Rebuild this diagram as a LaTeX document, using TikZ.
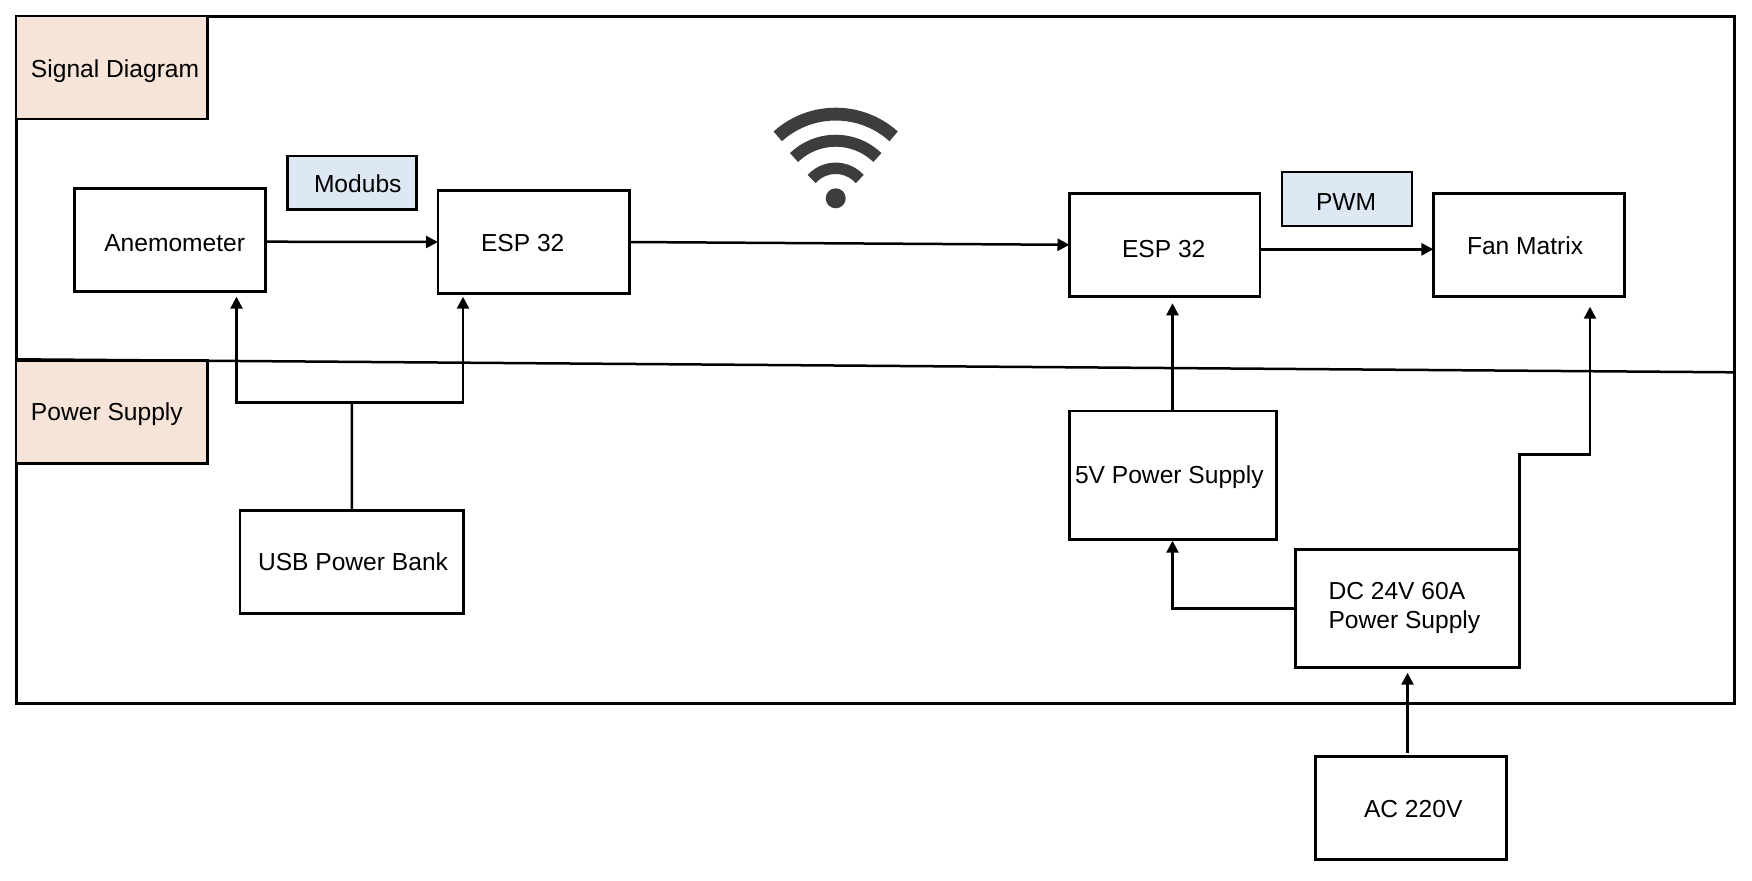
\documentclass[tikz,border=0pt]{standalone}
\usepackage{fontspec}
\setmainfont{Liberation Sans}
\usetikzlibrary{arrows.meta,calc}
\definecolor{peach}{HTML}{F6E4D9}
\definecolor{paleblue}{HTML}{DEE8F4}
\definecolor{wifigrey}{HTML}{3D3D3D}
\tikzset{
  blk/.style={draw=black,line width=1.45pt,inner sep=0pt,outer sep=0pt,rectangle},
  framebox/.style={blk,line width=1.5pt},
  tagbox/.style={blk,fill=peach},
  protobox/.style={blk,fill=paleblue},
  txt/.style={anchor=base west,inner sep=0pt,outer sep=0pt,font=\fontsize{12.3pt}{14pt}\selectfont,text=black},
  conn/.style={draw=black,line width=1.25pt},
  arr/.style={conn,-{Triangle[length=6pt,width=6pt]}},
  wifi/.style={draw=wifigrey,line cap=butt},
}
\newcommand{\blk}[6][blk]{\node[#1,minimum width={(#5-#3)*0.5pt},minimum height={(#6-#4)*0.5pt}] (#2) at ({(#3+#5)/2},{(#4+#6)/2}) {};}
\begin{document}
\begin{tikzpicture}[x=0.5pt,y=-0.5pt]
\useasboundingbox (0,0) rectangle (1752,880);
\fill[white] (0,0) rectangle (1752,880);
% outer frame and divider
\blk[framebox]{frame}{16}{16}{1734}{703}
\coordinate (divL) at (16,359.3);
\coordinate (divR) at (1734,372.3);
\draw[conn] (divL) -- (divR);
% section tags
\blk[tagbox]{sigtag}{16}{16}{207.5}{119}
\blk[tagbox]{powtag}{16}{360.5}{207.5}{463.3}
\node[txt] (sigtxt) at (31,77.3) {Signal Diagram};
\node[txt] (powtxt) at (31,420.5) {Power Supply};
% protocol tags
\blk[protobox]{modbox}{287.3}{156}{416.3}{209.3}
\node[txt] (modtxt) at (314,192.8) {Modubs};
\blk[protobox]{pwmbox}{1282}{172}{1412}{226}
\node[txt] (pwmtxt) at (1316,210.5) {PWM};
% blocks
\blk{anem}{74.7}{188.3}{265.3}{291.7}
\node[txt] (anemtxt) at (104.3,251.5) {Anemometer};
\blk{espa}{438}{190.3}{629.5}{293.7}
\node[txt] (espatxt) at (481,251.5) {ESP 32};
\blk{espb}{1069.5}{193.3}{1260}{296.3}
\node[txt] (espbtxt) at (1122,257.2) {ESP 32};
\blk{fan}{1433.4}{193.3}{1624.8}{296.3}
\node[txt] (fantxt) at (1467,254.5) {Fan Matrix};
\blk{usb}{240}{510.7}{463.5}{613.3}
\node[txt] (usbtxt) at (258,570.5) {USB Power Bank};
\blk{five}{1069.5}{411}{1276.3}{539.3}
\node[txt] (fivetxt) at (1075,483.8) {5V Power Supply};
\blk{dc}{1295.3}{549.7}{1519.5}{667.3}
\node[txt] (dctxta) at (1328.5,599.2) {DC 24V 60A};
\node[txt] (dctxtb) at (1328.5,628.5) {Power Supply};
\blk{ac}{1315.3}{756.3}{1506.8}{859.3}
\node[txt] (actxt) at (1364,817.2) {AC 220V};
% free connector ends
\coordinate (anemIn) at (236.5,296.7);
\coordinate (espaIn) at (463,296.7);
\coordinate (branch) at (352,402.7);
\coordinate (espbIn) at (1172.5,303.3);
\coordinate (fiveIn) at (1172.5,540.7);
\coordinate (fanIn) at (1590,306.7);
\coordinate (stepR) at (1590,454.3);
\coordinate (acOut) at (1407.5,753);
\coordinate (dcIn) at (1407.5,672.7);
% signal connectors
\draw[arr] ([yshift=-0.85pt]anem.east) -- (espa.west);
\draw[arr] (espa.east) -- (espb.west);
\draw[arr] ([yshift=-2.25pt]espb.east) -- ([yshift=-2.25pt]fan.west);
% power connectors
\draw[conn] (usb.north) -- (branch);
\draw[arr] (branch) -| (anemIn);
\draw[arr] (branch) -| (espaIn);
\draw[arr] (five.north -| espbIn) -- (espbIn);
\draw[arr] (dc.west) -| (fiveIn);
\draw[arr] (dc.north east) |- (stepR) -- (fanIn);
\draw[arr] (acOut) -- (dcIn);
% wifi symbol
\coordinate (wd) at (835.7,198.3);
\coordinate (wc) at (835.7,200.7);
\fill[wifigrey] (wd) circle[radius=5pt];
\draw[wifi,line width=6.4pt] (wc) ++(132:43.3pt) arc[start angle=132,end angle=48,radius=43.3pt];
\draw[wifi,line width=6pt] (wc) ++(134:30pt) arc[start angle=134,end angle=46,radius=30pt];
\draw[wifi,line width=5.7pt] (wc) ++(138:16.2pt) arc[start angle=138,end angle=42,radius=16.2pt];
\end{tikzpicture}
\end{document}
